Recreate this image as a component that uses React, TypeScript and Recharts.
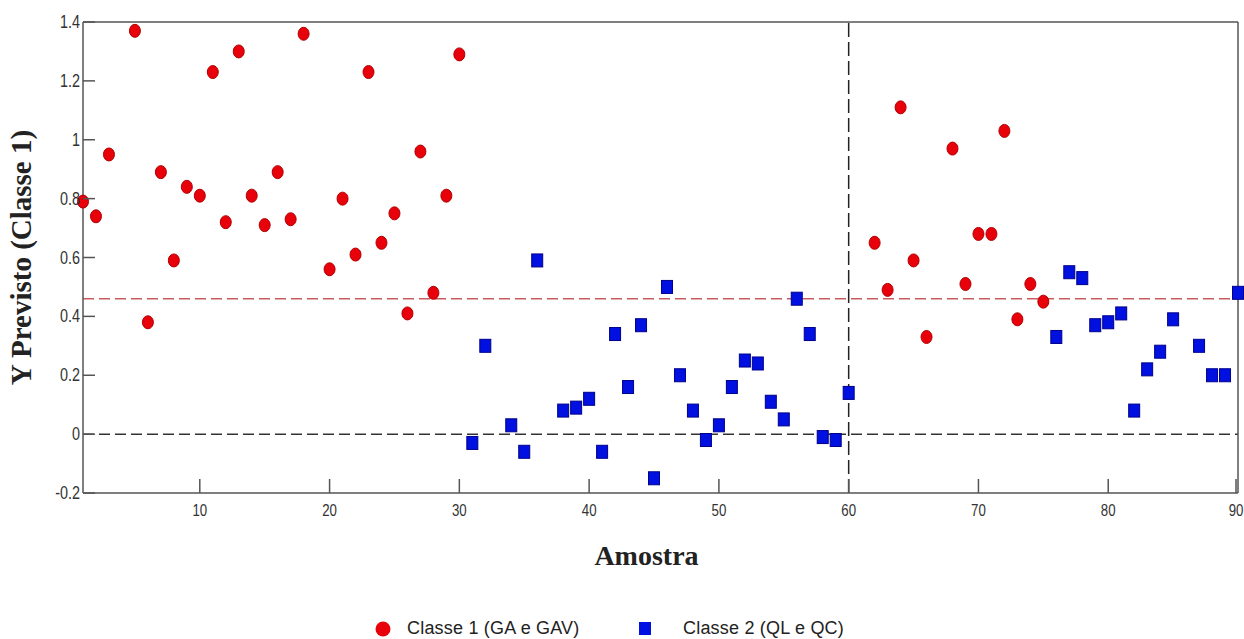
import React from 'react';
import { ScatterChart, Scatter, XAxis, YAxis, ReferenceLine, Legend } from 'recharts';

// samples and predicted Y values
const class1X = [1, 2, 3, 5, 6, 7, 8, 9, 10, 11, 12, 13, 14, 15, 16, 17, 18, 20, 21, 22, 23, 24, 25, 26, 27, 28, 29, 30, 62, 63, 64, 65, 66, 68, 69, 70, 71, 72, 73, 74, 75];
const class1Y = [0.79, 0.74, 0.95, 1.37, 0.38, 0.89, 0.59, 0.84, 0.81, 1.23, 0.72, 1.3, 0.81, 0.71, 0.89, 0.73, 1.36, 0.56, 0.8, 0.61, 1.23, 0.65, 0.75, 0.41, 0.96, 0.48, 0.81, 1.29, 0.65, 0.49, 1.11, 0.59, 0.33, 0.97, 0.51, 0.68, 0.68, 1.03, 0.39, 0.51, 0.45];

const class2X = [31, 32, 34, 35, 36, 38, 39, 40, 41, 42, 43, 44, 45, 46, 47, 48, 49, 50, 51, 52, 53, 54, 55, 56, 57, 58, 59, 60, 76, 77, 78, 79, 80, 81, 82, 83, 84, 85, 87, 88, 89, 90];
const class2Y = [-0.03, 0.3, 0.03, -0.06, 0.59, 0.08, 0.09, 0.12, -0.06, 0.34, 0.16, 0.37, -0.15, 0.5, 0.2, 0.08, -0.02, 0.03, 0.16, 0.25, 0.24, 0.11, 0.05, 0.46, 0.34, -0.01, -0.02, 0.14, 0.33, 0.55, 0.53, 0.37, 0.38, 0.41, 0.08, 0.22, 0.28, 0.39, 0.3, 0.2, 0.2, 0.48];

const xTicks = [10, 20, 30, 40, 50, 60, 70, 80, 90];
const yTicks = [-0.2, 0, 0.2, 0.4, 0.6, 0.8, 1, 1.2, 1.4];
const threshold = 0.46;
const splitSample = 60;

const class1Data = class1X.map((x, i) => ({ x, y: class1Y[i] }));
const class2Data = class2X.map((x, i) => ({ x, y: class2Y[i] }));

const AXIS = '#555';
const TICK_FONT = "'Liberation Sans', Arial, sans-serif";
const TITLE_FONT = "'Liberation Serif', 'Times New Roman', serif";

// labels are squeezed horizontally to look like the narrow font of the original
const BottomTick = (props: any) => {
  const { x, y, payload } = props;
  return (
    <g>
      <line x1={x} y1={y} x2={x} y2={y - 14} stroke={AXIS} strokeWidth={1.5} />
      <text transform={`translate(${x} ${y + 23}) scale(0.78 1)`} textAnchor="middle" fill="#333" fontSize={17} fontFamily={TICK_FONT}>
        {payload.value}
      </text>
    </g>
  );
};

const TopTick = (props: any) => {
  const { x, y } = props;
  return <line x1={x} y1={y} x2={x} y2={y + 14} stroke={AXIS} strokeWidth={1.5} />;
};

const LeftTick = (props: any) => {
  const { x, y, payload } = props;
  return (
    <g>
      <line x1={x} y1={y} x2={x + 12} y2={y} stroke={AXIS} strokeWidth={1.5} />
      <text transform={`translate(${x - 3} ${y + 6}) scale(0.8 1)`} textAnchor="end" fill="#333" fontSize={18} fontFamily={TICK_FONT}>
        {String(payload.value)}
      </text>
    </g>
  );
};

const RightTick = (props: any) => {
  const { x, y } = props;
  return <line x1={x} y1={y} x2={x - 12} y2={y} stroke={AXIS} strokeWidth={1.5} />;
};

const RedDot = (props: any) => (
  <ellipse cx={props.cx} cy={props.cy} rx={5.5} ry={6.5} fill="#e8000b" stroke="#b00000" strokeWidth={1} />
);

const BlueSquare = (props: any) => (
  <rect x={props.cx - 5.5} y={props.cy - 6.5} width={11} height={13} fill="#0010e0" stroke="#00008a" strokeWidth={1} />
);

const LegendBox = () => (
  <div style={{ position: 'relative', width: 1244, height: 36, fontFamily: "'Liberation Sans', Arial, sans-serif", fontSize: 18, color: '#222' }}>
    <svg width={16} height={16} style={{ position: 'absolute', left: 375, top: 18 }}>
      <circle cx={8} cy={8} r={7.5} fill="#e8000b" />
    </svg>
    <span style={{ position: 'absolute', left: 407, top: 15, letterSpacing: 0.2 }}>Classe 1 (GA e GAV)</span>
    <svg width={14} height={14} style={{ position: 'absolute', left: 638, top: 19 }}>
      <rect x={1} y={0} width={12} height={13} fill="#0010e0" />
    </svg>
    <span style={{ position: 'absolute', left: 683, top: 15, letterSpacing: 0.2 }}>Classe 2 (QL e QC)</span>
  </div>
);

export default function App() {
  return (
    <div style={{ position: 'absolute', left: 0, top: 0, width: 1244, height: 639, background: '#fff' }}>
      <ScatterChart width={1244} height={639} margin={{ top: 0, right: 0, bottom: 0, left: 0 }}>
        <XAxis
          xAxisId="top"
          orientation="top"
          type="number"
          domain={[1, 90]}
          ticks={xTicks}
          height={22}
          tickSize={0}
          tickMargin={0}
          tickLine={false}
          tick={<TopTick />}
          axisLine={{ stroke: AXIS, strokeWidth: 1.5 }}
        />
        <XAxis
          dataKey="x"
          type="number"
          domain={[1, 90]}
          ticks={xTicks}
          height={110}
          tickSize={0}
          tickMargin={0}
          tickLine={false}
          tick={<BottomTick />}
          axisLine={{ stroke: AXIS, strokeWidth: 1.5 }}
          label={{
            value: 'Amostra',
            position: 'insideBottom',
            offset: 38,
            dx: -14,
            style: { fontFamily: TITLE_FONT, fontWeight: 'bold', fontSize: 28, fill: '#222' },
          }}
        />
        <YAxis
          dataKey="y"
          type="number"
          domain={[-0.2, 1.4]}
          ticks={yTicks}
          width={83}
          tickSize={0}
          tickMargin={0}
          tickLine={false}
          tick={<LeftTick />}
          axisLine={{ stroke: AXIS, strokeWidth: 1.5 }}
          label={{
            value: 'Y Previsto (Classe 1)',
            angle: -90,
            position: 'insideLeft',
            offset: 21,
            style: { textAnchor: 'middle', fontFamily: TITLE_FONT, fontWeight: 'bold', fontSize: 29, fill: '#222' },
          }}
        />
        <YAxis
          yAxisId="right"
          orientation="right"
          type="number"
          domain={[-0.2, 1.4]}
          ticks={yTicks}
          width={6}
          tickSize={0}
          tickMargin={0}
          tickLine={false}
          tick={<RightTick />}
          axisLine={{ stroke: AXIS, strokeWidth: 1.5 }}
        />
        <ReferenceLine y={0} stroke="#333" strokeWidth={1.5} strokeDasharray="11 5" />
        <ReferenceLine y={threshold} stroke="#c85c5c" strokeWidth={1.6} strokeDasharray="11 5" />
        <ReferenceLine x={splitSample} stroke="#222" strokeWidth={1.5} strokeDasharray="14 5" />
        <Scatter name="Classe 1 (GA e GAV)" data={class1Data} shape={RedDot} isAnimationActive={false} />
        <Scatter name="Classe 2 (QL e QC)" data={class2Data} shape={BlueSquare} isAnimationActive={false} />
        <Legend verticalAlign="bottom" height={36} content={() => <LegendBox />} />
      </ScatterChart>
    </div>
  );
}
